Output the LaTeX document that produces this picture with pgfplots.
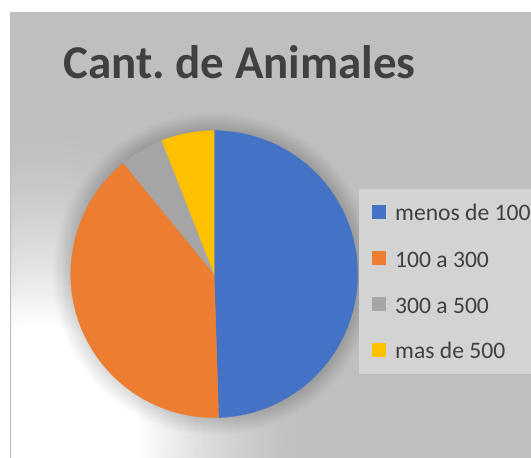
\documentclass[border=0pt]{standalone}
\usepackage{pgfplots}
\pgfplotsset{compat=1.18}
\usepackage{pgfplotstable}
\usepackage{fontspec}
\setmainfont{Carlito}
\definecolor{bg}{HTML}{BFBFBF}
\definecolor{legbg}{HTML}{D3D3D3}
\definecolor{txt}{HTML}{404040}
\definecolor{c1}{HTML}{4472C4}
\definecolor{c2}{HTML}{ED7D31}
\definecolor{c3}{HTML}{A5A5A5}
\definecolor{c4}{HTML}{FFC000}

\pgfplotstableread{
cat value
1 50
2 40
3 5
4 6
}\datatable
\pgfplotstablegetelem{0}{value}\of\datatable\let\va\pgfplotsretval
\pgfplotstablegetelem{1}{value}\of\datatable\let\vb\pgfplotsretval
\pgfplotstablegetelem{2}{value}\of\datatable\let\vc\pgfplotsretval
\pgfplotstablegetelem{3}{value}\of\datatable\let\vd\pgfplotsretval
\pgfmathsetmacro\tot{\va+\vb+\vc+\vd}
\pgfmathsetmacro\aA{360*(\va/\tot)}
\pgfmathsetmacro\aB{\aA+360*(\vb/\tot)}
\pgfmathsetmacro\aC{\aB+360*(\vc/\tot)}

\begin{document}%
\frenchspacing%
\begin{tikzpicture}[x=1pt,y=1pt]
\begin{scope}
\clip (0,0) rectangle (531,458);
\fill[white] (0,0) rectangle (531,458);
\fill[bg] (10,0) rectangle (531,446);
\begin{scope}
\clip (11.5,0) rectangle (531,446);
\foreach \k in {0,...,50} {
  \pgfmathsetmacro\ss{2.7-\k*0.034}
  \pgfmathsetmacro\pp{100*(\k/50)^1.5}
  \fill[white!\pp!bg] (40,18) ellipse ({100*\ss} and {115*\ss});
}
\foreach \i in {1,...,18} {\fill[black,opacity=0.008] (214.2,183.8) circle ({143.5+\i});}
\end{scope}
% legend box
\fill[legbg] (359,84) rectangle (540,268.5);
\begin{axis}[at={(70.7pt,40.3pt)}, anchor=south west, width=287pt, height=287pt,
  scale only axis, xmin=-1, xmax=1, ymin=-1, ymax=1, hide axis, clip=false]
\addplot[fill=c1, draw=c1, line width=0.2pt, domain=0:\aA, samples=100] ({sin(x)},{cos(x)}) -- (axis cs:0,0) -- cycle;
\addplot[fill=c2, draw=c2, line width=0.2pt, domain=\aA:\aB, samples=100] ({sin(x)},{cos(x)}) -- (axis cs:0,0) -- cycle;
\addplot[fill=c3, draw=c3, line width=0.2pt, domain=\aB:\aC, samples=30] ({sin(x)},{cos(x)}) -- (axis cs:0,0) -- cycle;
\addplot[fill=c4, draw=c4, line width=0.2pt, domain=\aC:360, samples=30] ({sin(x)},{cos(x)}) -- (axis cs:0,0) -- cycle;
\end{axis}
\node[anchor=base west, inner sep=0, font=\fontsize{47}{50}\selectfont\bfseries, text=txt] at (63,379) {Cant. de Animales};
\foreach \y/\c/\t in {237/c1/menos de 100, 190.7/c2/100 a 300, 144.7/c3/300 a 500, 99/c4/mas de 500} {
  \fill[\c] (372,\y+2) rectangle (386,\y+16);
  \node[anchor=base west, inner sep=0, font=\fontsize{23.6}{28}\selectfont, text=txt] at (395,\y) {\t};
}
\end{scope}
\pgfresetboundingbox
\path[use as bounding box] (0,0) rectangle (531,458);
\end{tikzpicture}%
\end{document}
